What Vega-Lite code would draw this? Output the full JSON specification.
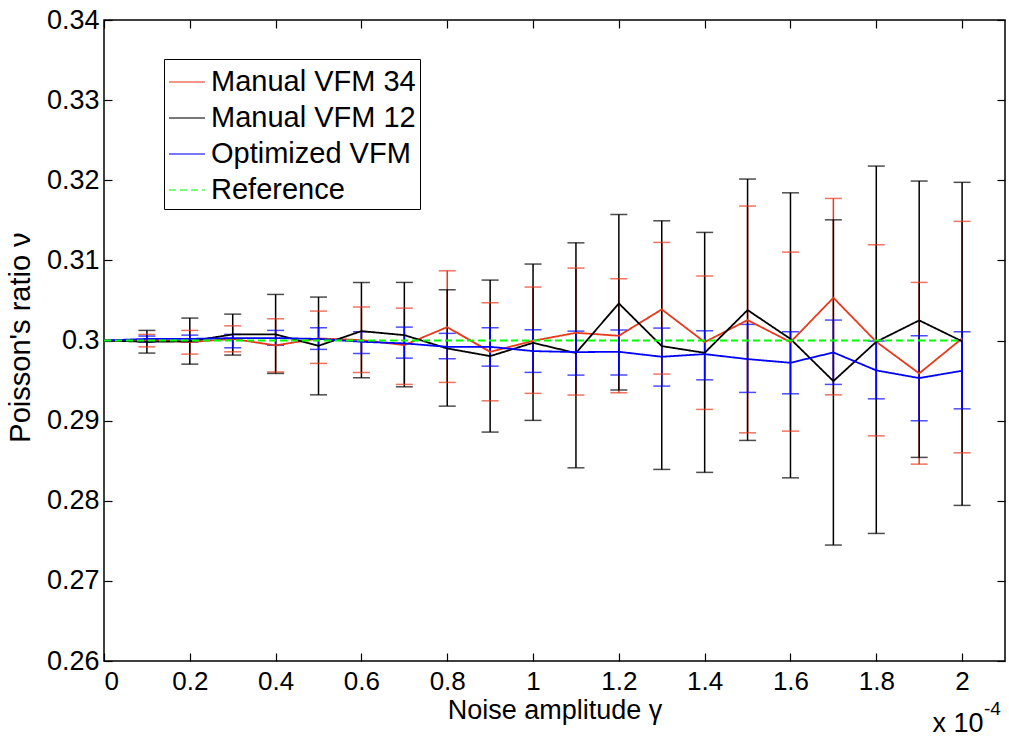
{
  "$schema": "https://vega.github.io/schema/vega-lite/v6.json",
  "width": 901,
  "height": 641,
  "autosize": {"type": "none"},
  "padding": {"left": 104, "top": 20, "right": 4, "bottom": 82},
  "background": "white",
  "title": {"text": "x 10", "orient": "bottom", "anchor": "end", "font": "Liberation Sans", "fontSize": 27, "fontWeight": "normal", "color": "black", "offset": 0, "dy": -12, "dx": -22},
  "config": {
    "view": {"stroke": "black", "strokeWidth": 1.5},
    "axis": {"grid": false, "domain": false, "tickColor": "black", "tickWidth": 1.2, "tickSize": -8, "labelColor": "black", "labelFont": "Liberation Sans", "labelFontSize": 26, "titleFont": "Liberation Sans", "titleFontSize": 27, "titleFontWeight": "normal", "titleColor": "black"},
    "legend": {"labelFont": "Liberation Sans", "labelFontSize": 29, "labelColor": "black"}
  },
  "data": {"values": [
    {"x": 0, "series": "Manual VFM 34", "y": 0.3},
    {"x": 0.1, "series": "Manual VFM 34", "y": 0.3001, "lo": 0.29921, "hi": 0.30076},
    {"x": 0.2, "series": "Manual VFM 34", "y": 0.2998, "lo": 0.2983, "hi": 0.30126},
    {"x": 0.3, "series": "Manual VFM 34", "y": 0.3002, "lo": 0.29859, "hi": 0.30183},
    {"x": 0.4, "series": "Manual VFM 34", "y": 0.29939, "lo": 0.29607, "hi": 0.30271},
    {"x": 0.5, "series": "Manual VFM 34", "y": 0.30026, "lo": 0.29714, "hi": 0.30367},
    {"x": 0.6, "series": "Manual VFM 34", "y": 0.30005, "lo": 0.29602, "hi": 0.30417},
    {"x": 0.7, "series": "Manual VFM 34", "y": 0.29943, "lo": 0.29452, "hi": 0.30404},
    {"x": 0.8, "series": "Manual VFM 34", "y": 0.30167, "lo": 0.29477, "hi": 0.3087},
    {"x": 0.9, "series": "Manual VFM 34", "y": 0.29859, "lo": 0.29247, "hi": 0.30471},
    {"x": 1.0, "series": "Manual VFM 34", "y": 0.29996, "lo": 0.2934, "hi": 0.30667},
    {"x": 1.1, "series": "Manual VFM 34", "y": 0.30096, "lo": 0.29319, "hi": 0.30904},
    {"x": 1.2, "series": "Manual VFM 34", "y": 0.30059, "lo": 0.29347, "hi": 0.3077},
    {"x": 1.3, "series": "Manual VFM 34", "y": 0.30388, "lo": 0.29581, "hi": 0.31224},
    {"x": 1.4, "series": "Manual VFM 34", "y": 0.2998, "lo": 0.2914, "hi": 0.30805},
    {"x": 1.5, "series": "Manual VFM 34", "y": 0.30255, "lo": 0.28848, "hi": 0.31678},
    {"x": 1.6, "series": "Manual VFM 34", "y": 0.2998, "lo": 0.28869, "hi": 0.31103},
    {"x": 1.7, "series": "Manual VFM 34", "y": 0.30533, "lo": 0.29322, "hi": 0.31773},
    {"x": 1.8, "series": "Manual VFM 34", "y": 0.29984, "lo": 0.2881, "hi": 0.31195},
    {"x": 1.9, "series": "Manual VFM 34", "y": 0.29589, "lo": 0.28457, "hi": 0.30725},
    {"x": 2.0, "series": "Manual VFM 34", "y": 0.30026, "lo": 0.28598, "hi": 0.31487},
    {"x": 0, "series": "Manual VFM 12", "y": 0.3},
    {"x": 0.1, "series": "Manual VFM 12", "y": 0.29984, "lo": 0.29843, "hi": 0.30126},
    {"x": 0.2, "series": "Manual VFM 12", "y": 0.2999, "lo": 0.29705, "hi": 0.3028},
    {"x": 0.3, "series": "Manual VFM 12", "y": 0.30076, "lo": 0.29818, "hi": 0.30329},
    {"x": 0.4, "series": "Manual VFM 12", "y": 0.30076, "lo": 0.29589, "hi": 0.30575},
    {"x": 0.5, "series": "Manual VFM 12", "y": 0.29934, "lo": 0.29322, "hi": 0.30542},
    {"x": 0.6, "series": "Manual VFM 12", "y": 0.30117, "lo": 0.29534, "hi": 0.30725},
    {"x": 0.7, "series": "Manual VFM 12", "y": 0.30067, "lo": 0.29422, "hi": 0.30725},
    {"x": 0.8, "series": "Manual VFM 12", "y": 0.29901, "lo": 0.29181, "hi": 0.30633},
    {"x": 0.9, "series": "Manual VFM 12", "y": 0.29805, "lo": 0.28857, "hi": 0.30754},
    {"x": 1.0, "series": "Manual VFM 12", "y": 0.29971, "lo": 0.29003, "hi": 0.30954},
    {"x": 1.1, "series": "Manual VFM 12", "y": 0.29843, "lo": 0.28411, "hi": 0.31219},
    {"x": 1.2, "series": "Manual VFM 12", "y": 0.30463, "lo": 0.29381, "hi": 0.31574},
    {"x": 1.3, "series": "Manual VFM 12", "y": 0.2993, "lo": 0.28391, "hi": 0.31494},
    {"x": 1.4, "series": "Manual VFM 12", "y": 0.29846, "lo": 0.28354, "hi": 0.31349},
    {"x": 1.5, "series": "Manual VFM 12", "y": 0.3038, "lo": 0.28753, "hi": 0.32015},
    {"x": 1.6, "series": "Manual VFM 12", "y": 0.3002, "lo": 0.28286, "hi": 0.31843},
    {"x": 1.7, "series": "Manual VFM 12", "y": 0.29493, "lo": 0.27447, "hi": 0.31506},
    {"x": 1.8, "series": "Manual VFM 12", "y": 0.29984, "lo": 0.27592, "hi": 0.32177},
    {"x": 1.9, "series": "Manual VFM 12", "y": 0.30251, "lo": 0.28541, "hi": 0.3199},
    {"x": 2.0, "series": "Manual VFM 12", "y": 0.2999, "lo": 0.27942, "hi": 0.31974},
    {"x": 0, "series": "Optimized VFM", "y": 0.3},
    {"x": 0.1, "series": "Optimized VFM", "y": 0.3002, "lo": 0.2998, "hi": 0.30055},
    {"x": 0.2, "series": "Optimized VFM", "y": 0.3002, "lo": 0.2998, "hi": 0.30067},
    {"x": 0.3, "series": "Optimized VFM", "y": 0.3003, "lo": 0.29909, "hi": 0.30076},
    {"x": 0.4, "series": "Optimized VFM", "y": 0.3003, "lo": 0.2994, "hi": 0.30126},
    {"x": 0.5, "series": "Optimized VFM", "y": 0.3002, "lo": 0.29889, "hi": 0.30159},
    {"x": 0.6, "series": "Optimized VFM", "y": 0.29984, "lo": 0.29839, "hi": 0.30109},
    {"x": 0.7, "series": "Optimized VFM", "y": 0.29964, "lo": 0.2978, "hi": 0.30167},
    {"x": 0.8, "series": "Optimized VFM", "y": 0.29921, "lo": 0.29772, "hi": 0.30089},
    {"x": 0.9, "series": "Optimized VFM", "y": 0.29921, "lo": 0.2968, "hi": 0.30159},
    {"x": 1.0, "series": "Optimized VFM", "y": 0.29868, "lo": 0.29602, "hi": 0.30134},
    {"x": 1.1, "series": "Optimized VFM", "y": 0.29855, "lo": 0.29568, "hi": 0.30117},
    {"x": 1.2, "series": "Optimized VFM", "y": 0.29859, "lo": 0.29568, "hi": 0.3013},
    {"x": 1.3, "series": "Optimized VFM", "y": 0.29797, "lo": 0.29431, "hi": 0.30155},
    {"x": 1.4, "series": "Optimized VFM", "y": 0.2983, "lo": 0.29509, "hi": 0.30121},
    {"x": 1.5, "series": "Optimized VFM", "y": 0.29768, "lo": 0.29352, "hi": 0.30201},
    {"x": 1.6, "series": "Optimized VFM", "y": 0.29722, "lo": 0.29335, "hi": 0.30109},
    {"x": 1.7, "series": "Optimized VFM", "y": 0.29851, "lo": 0.29452, "hi": 0.30255},
    {"x": 1.8, "series": "Optimized VFM", "y": 0.29627, "lo": 0.29272, "hi": 0.29993},
    {"x": 1.9, "series": "Optimized VFM", "y": 0.29531, "lo": 0.28998, "hi": 0.30059},
    {"x": 2.0, "series": "Optimized VFM", "y": 0.29622, "lo": 0.29147, "hi": 0.30109},
    {"x": 0, "series": "Reference", "y": 0.3},
    {"x": 2.0, "series": "Reference", "y": 0.3}
  ]},
  "resolve": {"axis": {"x": "independent", "y": "independent"}},
  "layer": [
    {
      "transform": [{"filter": "isValid(datum.lo)"}],
      "mark": {"type": "rule", "strokeWidth": 1.5},
      "encoding": {
        "x": {"field": "x", "type": "quantitative", "scale": {"domain": [0, 2.1], "nice": false, "zero": false},
              "axis": {"orient": "bottom", "values": [0, 0.2, 0.4, 0.6, 0.8, 1, 1.2, 1.4, 1.6, 1.8, 2], "format": ".1~f", "labelPadding": 15, "title": "Noise amplitude γ", "titleBaseline": "middle", "titleY": 49}},
        "y": {"field": "lo", "type": "quantitative", "scale": {"domain": [0.26, 0.34], "nice": false, "zero": false},
              "axis": {"orient": "left", "values": [0.26, 0.27, 0.28, 0.29, 0.3, 0.31, 0.32, 0.33, 0.34], "format": ".2~f", "labelPadding": 13, "labelFontSize": 27, "title": "Poisson's ratio ν", "titleFontSize": 29, "titleBaseline": "middle", "titleX": -84, "titleY": 317, "titleAngle": 270}},
        "y2": {"field": "hi"},
        "color": {"field": "series", "type": "nominal"}
      }
    },
    {
      "transform": [{"filter": "isValid(datum.lo)"}],
      "mark": {"type": "tick", "orient": "horizontal", "size": 17, "thickness": 1.5},
      "encoding": {
        "x": {"field": "x", "type": "quantitative", "axis": {"orient": "top", "values": [0, 0.2, 0.4, 0.6, 0.8, 1, 1.2, 1.4, 1.6, 1.8, 2], "labels": false, "title": null}},
        "y": {"field": "lo", "type": "quantitative", "axis": {"orient": "right", "values": [0.26, 0.27, 0.28, 0.29, 0.3, 0.31, 0.32, 0.33, 0.34], "labels": false, "title": "-4", "titleFontSize": 19, "titleAngle": 0, "titleAlign": "center", "titleBaseline": "middle", "titleX": -13, "titleY": 688}},
        "color": {"field": "series", "type": "nominal"}
      }
    },
    {
      "transform": [{"filter": "isValid(datum.hi)"}],
      "mark": {"type": "tick", "orient": "horizontal", "size": 17, "thickness": 1.5},
      "encoding": {
        "x": {"field": "x", "type": "quantitative", "axis": null},
        "y": {"field": "hi", "type": "quantitative", "axis": null},
        "color": {"field": "series", "type": "nominal"}
      }
    },
    {
      "mark": {"type": "line", "strokeWidth": 1.8},
      "encoding": {
        "x": {"field": "x", "type": "quantitative", "axis": null},
        "y": {"field": "y", "type": "quantitative", "axis": null},
        "color": {"field": "series", "type": "nominal",
                  "scale": {"domain": ["Manual VFM 34", "Manual VFM 12", "Optimized VFM", "Reference"], "range": ["#e8391c", "#000000", "#0000ff", "#00ff00"]},
                  "legend": {"title": null, "orient": "none", "legendX": 60, "legendY": 39, "symbolType": "stroke", "symbolSize": 1296, "symbolStrokeWidth": 1.5, "fillColor": "white", "strokeColor": "black", "padding": 4, "rowPadding": 2, "labelOffset": 5, "labelLimit": 400}},
        "strokeDash": {"field": "series", "type": "nominal",
                  "scale": {"domain": ["Manual VFM 34", "Manual VFM 12", "Optimized VFM", "Reference"], "range": [[1, 0], [1, 0], [1, 0], [7, 4]]},
                  "legend": {"title": null, "orient": "none", "legendX": 60, "legendY": 39, "symbolType": "stroke", "symbolSize": 1296, "symbolStrokeWidth": 1.5, "fillColor": "white", "strokeColor": "black", "padding": 4, "rowPadding": 2, "labelOffset": 5, "labelLimit": 400}}
      }
    }
  ]
}
